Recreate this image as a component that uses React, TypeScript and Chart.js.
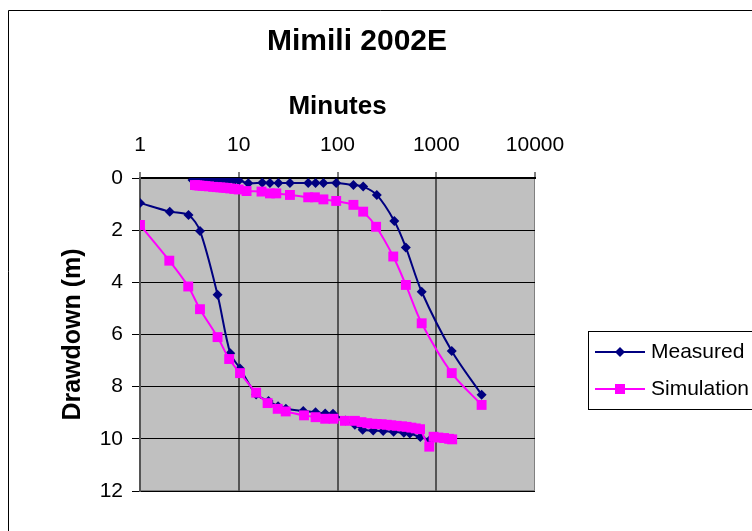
import React, { useEffect, useRef } from "react";
import { Chart, registerables } from "chart.js";
Chart.register(...registerables);

// ---- Data ----
const chartTitle = "Mimili 2002E";
const xTitle = "Minutes";
const yTitle = "Drawdown (m)";
const seriesNames = ["Measured", "Simulation"];
const xTickValues = [1, 10, 100, 1000, 10000];
const yTickValues = [0, 2, 4, 6, 8, 10, 12];

// Measured: pumping phase
const measuredPumpT = [1, 2, 3.1, 4.05, 6.1, 8.2, 10.3, 15, 20, 25, 30, 45, 60, 75, 90, 120, 150, 180, 230, 290, 370, 470, 540, 690, 860];
const measuredPumpS = [0.96, 1.29, 1.42, 2.03, 4.48, 6.72, 7.3, 8.3, 8.55, 8.75, 8.85, 8.93, 8.98, 9.03, 9.04, 9.3, 9.46, 9.65, 9.68, 9.7, 9.73, 9.77, 9.8, 9.93, 10.04];
// Measured: recovery phase
const measuredRecT = [3.4, 3.6, 3.8, 4.0, 4.3, 4.6, 5.0, 5.5, 6.0, 6.5, 7.0, 7.5, 8.0, 9.0, 10, 12.5, 17.3, 20.7, 25.2, 33, 50.5, 60, 72, 97, 145, 182, 250, 376, 492, 712, 1435, 2880];
const measuredRecS = [0.08, 0.04, 0.02, 0.0, 0.0, 0.02, 0.04, 0.05, 0.07, 0.08, 0.09, 0.1, 0.09, 0.1, 0.1, 0.2, 0.18, 0.19, 0.19, 0.19, 0.19, 0.19, 0.19, 0.19, 0.27, 0.33, 0.65, 1.65, 2.66, 4.36, 6.63, 8.31];

// Simulation: pumping phase
const simPumpT = [1, 1.98, 3.08, 4.05, 6.1, 8.0, 10.3, 15, 19.6, 24.8, 29.9, 45.8, 60, 75, 91, 119, 150, 175, 200, 225, 250, 280, 316, 350, 398, 450, 501, 560, 620, 685, 850, 940, 1050, 1200, 1350, 1450];
const simPumpS = [1.8, 3.17, 4.16, 5.03, 6.1, 6.94, 7.48, 8.23, 8.63, 8.85, 8.95, 9.1, 9.17, 9.23, 9.23, 9.31, 9.31, 9.36, 9.4, 9.42, 9.43, 9.44, 9.46, 9.48, 9.5, 9.52, 9.54, 9.57, 9.6, 9.63, 10.3, 9.92, 9.95, 9.97, 10.0, 10.02];
// Simulation: recovery phase
const simRecT = [3.6, 3.8, 4.0, 4.3, 4.6, 5.0, 5.5, 6.0, 6.5, 7.0, 7.5, 8.2, 9.0, 10, 12, 17, 20.7, 24, 33, 50.5, 59, 72, 97, 145, 182, 246, 367, 492, 712, 1435, 2880];
const simRecS = [0.27, 0.28, 0.29, 0.3, 0.31, 0.32, 0.34, 0.35, 0.36, 0.37, 0.38, 0.4, 0.42, 0.44, 0.5, 0.52, 0.59, 0.59, 0.65, 0.74, 0.74, 0.82, 0.88, 1.03, 1.29, 1.87, 3.01, 4.1, 5.57, 7.48, 8.7];

const seriesColors = ["#000080", "#FF00FF"];

function toPoints(t1: number[], s1: number[], t2: number[], s2: number[]) {
  const pts: { x: number; y: number | null }[] = t1.map((t, i) => ({ x: t, y: s1[i] }));
  pts.push({ x: t1[t1.length - 1], y: null });
  t2.forEach((t, i) => pts.push({ x: t, y: s2[i] }));
  return pts;
}

const FONT = 'Arial, "Liberation Sans", sans-serif';

const decor = {
  id: "decor",
  beforeDraw(chart: any) {
    const { ctx, chartArea: a, width, height } = chart;
    ctx.save();
    ctx.fillStyle = "#ffffff";
    ctx.fillRect(0, 0, width, height);
    ctx.fillStyle = "#C0C0C0";
    ctx.fillRect(a.left, a.top, a.right - a.left, a.bottom - a.top);
    ctx.strokeStyle = "#808080";
    ctx.lineWidth = 1;
    ctx.strokeRect(a.left + 0.5, a.top + 0.5, a.right - a.left - 1, a.bottom - a.top - 1);
    ctx.restore();
  },
  afterDraw(chart: any) {
    const { ctx, chartArea: a } = chart;
    ctx.save();
    // outer chart border
    ctx.strokeStyle = "#000";
    ctx.lineWidth = 1;
    ctx.beginPath();
    ctx.moveTo(8.5, 540);
    ctx.lineTo(8.5, 10.5);
    ctx.lineTo(760, 10.5);
    ctx.stroke();
    // title
    ctx.fillStyle = "#000";
    ctx.textAlign = "center";
    ctx.textBaseline = "middle";
    ctx.font = `bold 30px ${FONT}`;
    ctx.fillText(chartTitle, 357, 42);
    ctx.font = `bold 26px ${FONT}`;
    ctx.fillText(xTitle, (a.left + a.right) / 2, 107);
    ctx.save();
    ctx.translate(73, (a.top + a.bottom) / 2);
    ctx.rotate(-Math.PI / 2);
    ctx.font = `bold 25px ${FONT}`;
    ctx.fillText(yTitle, 0, 0);
    ctx.restore();
    // legend
    ctx.strokeStyle = "#000";
    ctx.lineWidth = 1;
    ctx.strokeRect(588.5, 331.5, 200, 78);
    const rows = [352, 389];
    seriesNames.forEach((name, i) => {
      const y = rows[i];
      ctx.strokeStyle = seriesColors[i];
      ctx.lineWidth = 2;
      ctx.beginPath();
      ctx.moveTo(595, y);
      ctx.lineTo(645, y);
      ctx.stroke();
      ctx.fillStyle = seriesColors[i];
      if (i === 0) {
        ctx.beginPath();
        ctx.moveTo(620, y - 5);
        ctx.lineTo(625, y);
        ctx.lineTo(620, y + 5);
        ctx.lineTo(615, y);
        ctx.closePath();
        ctx.fill();
      } else {
        ctx.fillRect(615, y - 5, 10, 10);
      }
      ctx.fillStyle = "#000";
      ctx.textAlign = "left";
      ctx.textBaseline = "middle";
      ctx.font = `21px ${FONT}`;
      ctx.fillText(name, 651, y);
    });
    ctx.restore();
  },
};

export default function App() {
  const ref = useRef<HTMLCanvasElement | null>(null);
  useEffect(() => {
    document.body.style.margin = "0";
    const canvas = ref.current!;
    const chart = new Chart(canvas, {
      type: "line",
      data: {
        datasets: [
          {
            label: seriesNames[0],
            data: toPoints(measuredPumpT, measuredPumpS, measuredRecT, measuredRecS) as any,
            borderColor: seriesColors[0],
            backgroundColor: seriesColors[0],
            pointStyle: "rectRot",
            pointRadius: 5,
            pointBorderWidth: 0,
            borderWidth: 2,
            tension: 0.3,
            spanGaps: false,
            order: 1,
          },
          {
            label: seriesNames[1],
            data: toPoints(simPumpT, simPumpS, simRecT, simRecS) as any,
            borderColor: seriesColors[1],
            backgroundColor: seriesColors[1],
            pointStyle: "rect",
            pointRadius: 7,
            pointBorderWidth: 0,
            borderWidth: 2,
            tension: 0.3,
            spanGaps: false,
            order: 0,
          },
        ],
      },
      options: {
        animation: false,
        responsive: false,
        devicePixelRatio: 1,
        layout: { padding: { left: 0, top: 0, right: 217, bottom: 40 } },
        plugins: { legend: { display: false }, title: { display: false }, tooltip: { enabled: false } },
        scales: {
          x: {
            type: "logarithmic",
            position: "top",
            min: 1,
            max: 10000,
            afterBuildTicks: (s: any) => {
              s.ticks = xTickValues.map((v) => ({ value: v }));
            },
            afterFit: (s: any) => {
              s.height = 178;
            },
            ticks: {
              font: { family: FONT, size: 21 },
              color: "#000",
              padding: 14,
              autoSkip: false,
              maxRotation: 0,
              callback: (v: any) => String(v),
            },
            grid: {
              color: (c: any) => (c.tick && [10, 100, 1000].includes(c.tick.value) ? "#555555" : "rgba(0,0,0,0)"),
              lineWidth: 2,
              tickLength: 6,
              tickColor: "#000",
              tickWidth: 1,
            },
            border: { display: true, color: "#000", width: 2 },
          },
          y: {
            type: "linear",
            reverse: true,
            min: 0,
            max: 12,
            afterBuildTicks: (s: any) => {
              s.ticks = yTickValues.map((v) => ({ value: v }));
            },
            afterFit: (s: any) => {
              s.width = 140;
            },
            ticks: { font: { family: FONT, size: 21 }, color: "#000", padding: 9 },
            grid: { color: "#000", lineWidth: 1, tickLength: 8, tickColor: "#000" },
            border: { display: true, color: "#555", width: 2 },
          },
        },
      },
      plugins: [decor],
    });
    return () => chart.destroy();
  }, []);
  return <canvas ref={ref} width={752} height={531} style={{ display: "block" }} />;
}
